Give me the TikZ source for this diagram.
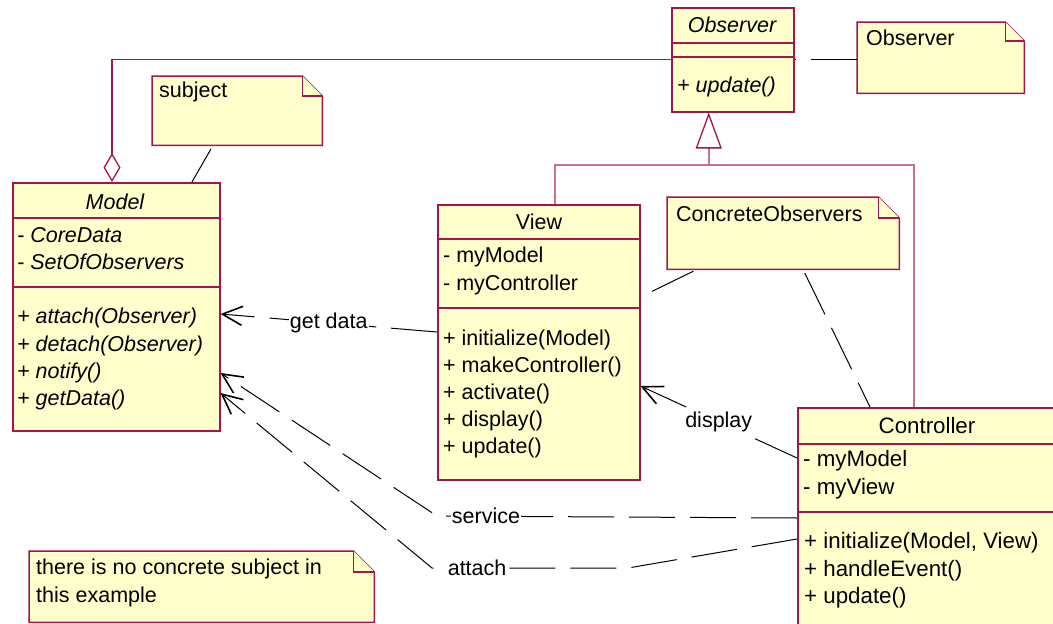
\documentclass[tikz,border=0pt]{standalone}
\usepackage{fontspec}
\setmainfont{Liberation Sans}
\usetikzlibrary{arrows.meta,calc}
\definecolor{umlred}{RGB}{165,20,75}
\definecolor{genpink}{RGB}{205,110,150}
\definecolor{umlfill}{RGB}{255,255,204}
\newcommand\umlnote[6]{%
  \node[inner sep=0pt, minimum width=#4pt, minimum height=#5pt, anchor=north west] (#1) at (#2,#3) {};
  \filldraw[noteline] (#1.north west) -- ([xshift=-#6pt]#1.north east) -- ([yshift=-#6pt]#1.north east) -- (#1.south east) -- (#1.south west) -- cycle;
  \draw[noteline] ([xshift=-#6pt]#1.north east) -- ([xshift=-#6pt,yshift=-#6pt]#1.north east) -- ([yshift=-#6pt]#1.north east);
}
\begin{document}
\begin{tikzpicture}[x=1pt,y=-1pt,
  umlbox/.style={draw=umlred, line width=1.5pt, fill=umlfill, inner sep=0pt, anchor=north west},
  sep/.style={draw=umlred, line width=1.2pt},
  noteline/.style={draw=umlred, line width=1.5pt, fill=umlfill},
  txt/.style={inner sep=0pt, anchor=base west, font=\fontsize{21.5}{25}\selectfont},
  ttl/.style={inner sep=0pt, anchor=base, font=\fontsize{21.5}{25}\selectfont},
  ctxt/.style={txt, font=\fontsize{22.3}{25}\selectfont},
  cttl/.style={ttl, font=\fontsize{22.3}{25}\selectfont},
  itxt/.style={txt, font=\fontsize{21.5}{25}\selectfont\itshape},
  ittl/.style={ttl, font=\fontsize{21.5}{25}\selectfont\itshape},
  conn/.style={draw=black, line width=1pt, dash pattern=on 46pt off 15pt},
  arr/.style={-{Straight Barb[length=20pt,width=19pt,line width=1.6pt]}},
  lbl/.style={fill=white, inner sep=1pt, font=\fontsize{21.5}{25}\selectfont},
  gen/.style={draw=genpink, line width=2pt},
  assoc/.style={draw=umlred, line width=1.4pt}]
\useasboundingbox (0,0) rectangle (1053,624);
\clip (0,0) rectangle (1053,624);

% ---------- classes ----------
\node[umlbox, minimum width=207pt, minimum height=248pt] (model) at (12,182) {};
\draw[sep] ([yshift=-36pt]model.north west) -- ([yshift=-36pt]model.north east);
\draw[sep] ([yshift=-105pt]model.north west) -- ([yshift=-105pt]model.north east);

\node[umlbox, minimum width=122pt, minimum height=104pt] (observer) at (671,7) {};
\draw[sep] ([yshift=-36pt]observer.north west) -- ([yshift=-36pt]observer.north east);
\draw[sep] ([yshift=-50pt]observer.north west) -- ([yshift=-50pt]observer.north east);

\node[umlbox, minimum width=202pt, minimum height=275pt] (view) at (437,204) {};
\draw[sep] ([yshift=-35pt]view.north west) -- ([yshift=-35pt]view.north east);
\draw[sep] ([yshift=-104pt]view.north west) -- ([yshift=-104pt]view.north east);

\node[umlbox, minimum width=260pt, minimum height=240pt] (controller) at (797,407) {};
\draw[sep] ([yshift=-37pt]controller.north west) -- ([yshift=-37pt]controller.north east);
\draw[sep] ([yshift=-105pt]controller.north west) -- ([yshift=-105pt]controller.north east);

% ---------- notes ----------
\umlnote{subjnote}{152}{76}{170}{69}{20}
\umlnote{obsnote}{857}{22}{167}{71}{19}
\umlnote{concnote}{667}{197}{232}{72}{21}
\umlnote{remnote}{29}{551}{345}{71}{21}

% ---------- texts ----------
\node[ittl] (mt) at (115,209) {Model};
\node[itxt] (ma1) at (17,242) {- CoreData};
\node[itxt] (ma2) at (17,269) {- SetOfObservers};
\node[itxt] (mm1) at (17,323) {+ attach(Observer)};
\node[itxt] (mm2) at (17,351) {+ detach(Observer)};
\node[itxt] (mm3) at (17,378) {+ notify()};
\node[itxt] (mm4) at (17,405) {+ getData()};

\node[ittl] (ot) at (732,32) {Observer};
\node[itxt] (om1) at (677,92) {+ update()};

\node[ttl] (vt) at (539,229) {View};
\node[txt] (va1) at (443,262) {- myModel};
\node[txt] (va2) at (443,290) {- myController};
\node[txt] (vm1) at (443,345) {+ initialize(Model)};
\node[txt] (vm2) at (443,372) {+ makeController()};
\node[txt] (vm3) at (443,399) {+ activate()};
\node[txt] (vm4) at (443,426) {+ display()};
\node[txt] (vm5) at (443,453) {+ update()};

\node[cttl] (ct) at (927,433) {Controller};
\node[ctxt] (ca1) at (803,466) {- myModel};
\node[ctxt] (ca2) at (803,494) {- myView};
\node[ctxt] (cm1) at (804,548) {+ initialize(Model, View)};
\node[ctxt] (cm2) at (804,576) {+ handleEvent()};
\node[ctxt] (cm3) at (804,603) {+ update()};

\node[txt] (st) at (159,97) {subject};
\node[txt] (obt) at (866,45) {Observer};
\node[txt] (cot) at (676,221) {ConcreteObservers};
\node[txt] (rt1) at (36,574) {there is no concrete subject in};
\node[txt] (rt2) at (36,602) {this example};

% ---------- relations ----------
\draw[assoc, {Diamond[open,length=29pt,width=17pt,line width=1.3pt]}-] ([xshift=100pt]model.north west) |- (observer.west);

\coordinate (branch) at ([xshift=-24pt,yshift=-52pt]observer.south);
\draw[gen] ([xshift=16pt]view.north) |- (branch) -| ([xshift=-14pt]controller.north);
\draw[gen, -{Triangle[open,length=36pt,width=26pt,color=umlred,line width=1.3pt]}] (branch) -- ([xshift=-24pt]observer.south);

% note links
\draw[conn, shorten <=4pt] ([xshift=61pt]subjnote.south west) -- ([xshift=180pt]model.north west);
\draw[conn] (obsnote.west |- observer.east) -- (observer.east);
\draw[conn, shorten <=4pt] ([xshift=30pt]concnote.south west) -- ([yshift=-93pt]view.north east);
\draw[conn, shorten <=4pt] ([xshift=136pt]concnote.south west) -- ([xshift=73pt]controller.north west);

% dependencies
\draw[conn, arr] ([yshift=-128pt]view.north west) -- node[lbl] (lgd) {get data} ([yshift=-132pt]model.north east);
\draw[conn, arr] ([yshift=-51pt]controller.north west) -- node[lbl] (ldi) {display} ([yshift=-182pt]view.north east);

\coordinate (svcbend) at (437,516);
\draw[conn, arr] ([yshift=-111pt]controller.north west) -- node[lbl, pos=0.864] (lsv) {service} (svcbend) -- ([yshift=-191pt]model.north east);

\coordinate (attbend1) at (628,568);
\coordinate (attbend2) at (432,568);
\draw[conn, arr] ([yshift=-132pt]controller.north west) -- (attbend1) -- node[lbl, pos=0.77] (lat) {attach} (attbend2) -- ([yshift=-211pt]model.north east);
\end{tikzpicture}
\end{document}
